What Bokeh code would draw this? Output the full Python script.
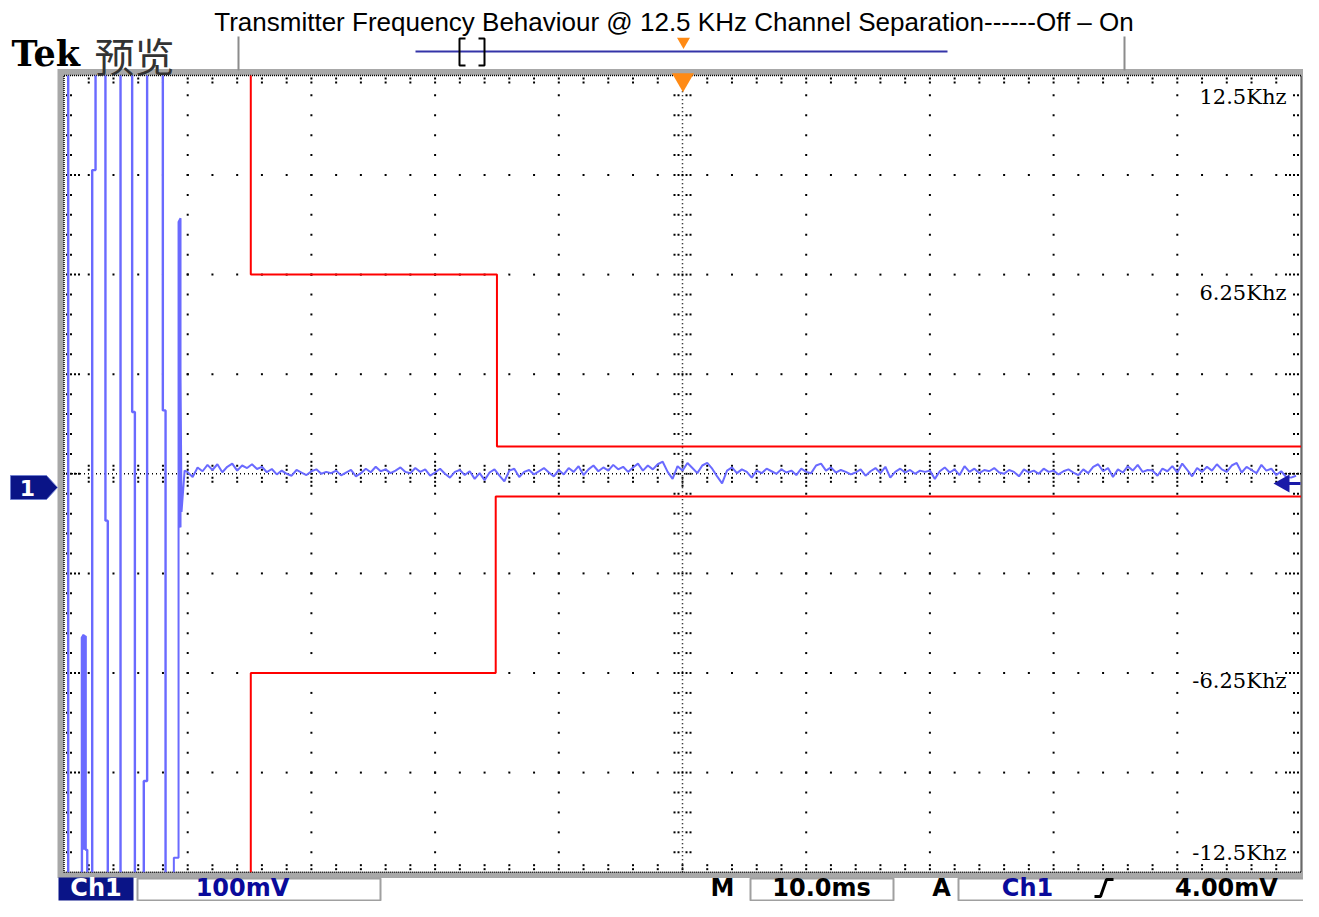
import numpy as np
from bokeh.plotting import figure
from bokeh.models import Range1d
from bokeh.core.properties import value
from bokeh.embed import file_html
from bokeh.resources import INLINE

# ------------------------------------------------------------------ data
title_text = "Transmitter Frequency Behaviour @ 12.5 KHz Channel Separation------Off \u2013 On"
brand_text = "Tek"
mode_text = "\u9884\u89c8"

t_full_ms = 100.0        # 10 div x 10 ms/div
f_full_khz = 12.5        # +/- 4 div x 3.125 kHz/div
div_t_ms = 10.0
div_f_khz = 3.125

# ETSI-style mask (time in ms, deviation in kHz)
mask_upper_t = [15.1, 15.1, 35.0, 35.0, 100.0]
mask_upper_f = [12.5, 6.25, 6.25, 0.86, 0.86]
mask_lower_t = [15.1, 15.1, 34.9, 34.9, 100.0]
mask_lower_f = [-12.5, -6.25, -6.25, -0.71, -0.71]

level_labels = ["12.5Khz", "6.25Khz", "-6.25Khz", "-12.5Khz"]
level_values = [12.5, 6.25, -6.25, -12.5]

# switch-on burst (display is clipped at +/-12.5 kHz)
burst_t = [
    [0.34, 0.34],
    [1.45, 1.45, 1.60, 1.60, 1.60, 1.75, 1.75, 1.88, 1.88],
    [2.28, 2.28, 2.55, 2.55],
    [3.35, 3.35, 3.54, 3.54],
    [4.57, 4.57],
    [5.51, 5.51, 5.73, 5.73],
    [6.45, 6.45, 6.72, 6.72],
    [7.99, 7.99, 8.21, 8.21],
    [8.88, 8.88, 9.26, 9.26, 9.42, 9.42, 9.34, 9.34, 9.50, 9.75],
]
burst_f = [
    [12.5, -12.5],
    [-12.5, -5.14, -5.05, -11.8, -5.10, -5.10, -11.8, -11.8, -12.5],
    [-12.5, 9.53, 9.53, 12.5],
    [12.5, -1.47, -1.47, -12.5],
    [-12.5, 12.5],
    [12.5, 1.94, 1.94, -12.5],
    [-12.5, -9.64, -9.64, 12.5],
    [12.5, 1.99, 1.99, -12.5],
    [-12.5, -12.05, -12.05, 7.90, 8.02, -1.68, -1.60, 7.50, -1.20, 0.10],
]

# settled carrier, sampled every 0.4 ms from 10.0 ms (kHz)
settled_t0 = 10.0
settled_dt = 0.4
settled_f = [
    0.05, -0.10, 0.20, 0.08, 0.28, 0.12, 0.30, 0.05, 0.22, 0.32, 0.10, 0.26, 0.18, 0.30, 0.15,
    0.22, 0.05, 0.15, -0.02, 0.10, 0.00, -0.06, 0.12, 0.04, -0.04, 0.08, 0.14, 0.00, 0.06, 0.02,
    0.10, -0.05, 0.04, 0.12, -0.08, 0.02, 0.16, 0.05, 0.22, 0.08, 0.14, 0.02, 0.10, 0.20, 0.06,
    0.02, 0.18, 0.06, 0.14, -0.06, 0.04, 0.16, 0.00, -0.12, 0.06, 0.12, -0.04, 0.08, -0.16, 0.02,
    -0.20, 0.04, 0.14, -0.06, -0.24, 0.10, 0.16, -0.10, 0.06, 0.12, -0.02, 0.08, 0.18, 0.04, -0.08,
    0.12, -0.02, 0.18, 0.06, 0.24, -0.04, 0.14, 0.26, 0.08, 0.20, 0.10, 0.28, 0.14, 0.22, 0.06,
    0.20, 0.32, 0.10, 0.26, 0.14, 0.30, 0.38, 0.06, -0.16, 0.24, 0.10, 0.34, 0.18, 0.02, 0.26,
    0.34, 0.16, -0.08, -0.30, 0.10, 0.20, 0.02, 0.14, 0.06, -0.12, 0.10, 0.02, 0.16, 0.08, 0.00,
    0.14, 0.04, 0.10, -0.04, 0.16, 0.06, 0.02, 0.26, 0.32, 0.10, 0.20, 0.04, 0.12, 0.06, -0.02,
    0.04, 0.14, -0.06, 0.08, 0.18, 0.02, 0.22, -0.12, 0.06, 0.16, 0.04, 0.12, 0.00, 0.10, 0.06,
    0.10, -0.16, 0.08, 0.20, 0.04, 0.14, -0.04, 0.24, 0.06, 0.16, 0.02, 0.12, 0.08, 0.18, 0.04,
    0.00, 0.12, 0.06, -0.08, 0.14, 0.04, 0.10, 0.00, 0.16, 0.06, 0.10, -0.02, 0.08, 0.14, 0.04,
    -0.04, 0.14, 0.02, 0.22, 0.30, 0.08, 0.18, -0.10, 0.14, 0.04, 0.24, 0.10, 0.28, 0.06, 0.12,
    0.10, -0.06, 0.16, 0.08, 0.24, 0.04, 0.32, 0.12, -0.08, 0.18, 0.06, 0.22, 0.10, 0.30, 0.14,
    0.06, 0.26, 0.34, 0.04, 0.22, 0.12, 0.02, 0.28, 0.10, 0.16, -0.04, 0.08, -0.10, -0.12, -0.06,
]

ch_label = "Ch1"
volts_label = "100mV"
time_label = "10.0ms"
trig_label = "4.00mV"

# ------------------------------------------------------------------ layout
W, H = 1303, 901
GX0, GX1 = 63.5, 1300.5          # px of the graticule left / right
GY_C = 473.3                     # px of 0 kHz
PXT = (GX1 - GX0) / t_full_ms    # px per ms
PXF = 31.87                      # px per kHz


def X(px):
    return (px - GX0) / PXT


def Y(py):
    return (GY_C - py) / PXF


p = figure(width=W, height=H,
           x_range=Range1d(X(0), X(W)),
           y_range=Range1d(Y(H), Y(0)),
           min_border=0, toolbar_location=None, output_backend="svg",
           x_axis_location=None, y_axis_location=None,
           background_fill_color="white", border_fill_color="white",
           outline_line_color=None)
p.grid.visible = False

TRACE = "#6a6aff"
NAVY = "#0a1487"

# graticule frame
p.quad(left=X(57), right=X(1306.5), top=Y(68.5), bottom=Y(877.5),
       fill_color="#a8a8a8", line_color=None)
p.quad(left=0, right=t_full_ms, top=f_full_khz, bottom=-f_full_khz,
       fill_color="white", line_color=None)

# graticule dots
minor_t = np.arange(2.0, t_full_ms, 2.0)
minor_f = np.arange(-f_full_khz + div_f_khz / 5, f_full_khz, div_f_khz / 5)
major_t = [t for t in np.arange(div_t_ms, t_full_ms, div_t_ms) if abs(t - 50) > 1e-6]
major_f = [f for f in np.arange(-f_full_khz + div_f_khz, f_full_khz, div_f_khz) if abs(f) > 1e-6]

gx, gy = [], []
for t in major_t:
    gx += [t] * len(minor_f)
    gy += list(minor_f)
for f in major_f:
    gx += list(minor_t)
    gy += [f] * len(minor_t)
# ticks on the centre horizontal line
for t in minor_t:
    for d in (-8, -4, 4, 8):
        gx.append(t)
        gy.append(d / PXF)
for t in np.arange(div_t_ms, t_full_ms, div_t_ms):
    for d in (-12, 12):
        gx.append(t)
        gy.append(d / PXF)
# ticks on the centre vertical line
for f in minor_f:
    for d in (-8, -4, 4, 8):
        gx.append(50 + d / PXT)
        gy.append(f)
# ticks on the border
for t in minor_t:
    for d in (3, 7):
        gx += [t, t]
        gy += [f_full_khz - d / PXF, -f_full_khz + d / PXF]
for f in minor_f:
    for d in (3, 7):
        gx += [d / PXT, t_full_ms - d / PXT]
        gy += [f, f]
for f in major_f + [0.0]:
    for d in (11, 15):
        gx += [d / PXT, t_full_ms - d / PXT]
        gy += [f, f]
p.scatter(gx, gy, marker="square", size=2, fill_color="black", line_color=None)

p.multi_line(xs=[[0, t_full_ms, t_full_ms, 0, 0]],
             ys=[[f_full_khz, f_full_khz, -f_full_khz, -f_full_khz, f_full_khz]],
             line_color="black", line_width=1.5, line_dash="1 1")
p.multi_line(xs=[[0, t_full_ms], [50, 50]],
             ys=[[0, 0], [-f_full_khz, f_full_khz]],
             line_color="black", line_width=1.5, line_dash="1 3")

# mask
p.line(mask_upper_t, mask_upper_f, line_color="#ff0000", line_width=2)
p.line(mask_lower_t, mask_lower_f, line_color="#ff0000", line_width=2)

# trace
settled_t = settled_t0 + settled_dt * np.arange(len(settled_f))
p.multi_line(xs=burst_t[:-1], ys=burst_f[:-1], line_color=TRACE, line_width=2.4)
p.line(burst_t[-1] + list(settled_t), burst_f[-1] + list(settled_f),
       line_color=TRACE, line_width=2)

# level labels
p.text(x=[X(1286)] * 4,
       y=[v + o / PXF for v, o in zip(level_values, [-22, -18, -8, 19])],
       text=level_labels, text_font=value("DejaVu Serif"), text_font_size="21px",
       text_color="black", text_align="right", text_baseline="middle")

# trigger markers
p.scatter([X(682.5)], [Y(79)], marker="inverted_triangle", size=22,
          fill_color="#ff8a14", line_color=None)
p.scatter([X(683)], [Y(41)], marker="inverted_triangle", size=13,
          fill_color="#ff8a14", line_color=None)

# channel marker on the left
p.patch([X(10), X(46), X(57), X(46), X(10)], [Y(475), Y(475), Y(487), Y(499), Y(499)],
        fill_color=NAVY, line_color="#7080d0", line_width=1)
p.text(x=[X(27)], y=[Y(487)], text=["1"], text_font=value("DejaVu Sans"),
       text_font_style="bold", text_font_size="22px", text_color="white",
       text_align="center", text_baseline="middle")
# ground arrow on the right
p.patch([X(1273), X(1289), X(1289)], [Y(483), Y(474), Y(492)],
        fill_color="#1a1aa8", line_color=None)
p.segment(x0=[X(1288)], y0=[Y(483)], x1=[X(1300)], y1=[Y(483)],
          line_color="#1a1aa8", line_width=3)

# header
p.text(x=[X(673.5)], y=[Y(21)], text=[title_text], text_font=value("Liberation Sans"),
       text_font_size="26px", text_color="black", text_align="center",
       text_baseline="middle")
p.text(x=[X(11)], y=[Y(53)], text=[brand_text], text_font=value("DejaVu Serif"),
       text_font_style="bold", text_font_size="35px", text_color="black",
       text_align="left", text_baseline="middle")
p.text(x=[X(94)], y=[Y(54)], text=[mode_text], text_font=value("Noto Sans CJK SC"),
       text_font_size="40px", text_color="#333333", text_align="left",
       text_baseline="middle")
p.segment(x0=[X(238), X(1124)], y0=[Y(36), Y(36)], x1=[X(238), X(1124)], y1=[Y(70), Y(70)],
          line_color="#8c8c8c", line_width=2)
p.segment(x0=[X(415)], y0=[Y(51)], x1=[X(947)], y1=[Y(51)],
          line_color="#3434a8", line_width=2)
p.multi_line(xs=[[X(465), X(459), X(459), X(465)], [X(478), X(484), X(484), X(478)]],
             ys=[[Y(38), Y(38), Y(65), Y(65)], [Y(38), Y(38), Y(65), Y(65)]],
             line_color="black", line_width=2)

# bottom status bar
BT, BB, BC = 877, 900, 887
p.quad(left=X(58), right=X(133), top=Y(BT), bottom=Y(BB), fill_color=NAVY, line_color=None)
p.quad(left=[X(137), X(750), X(958)], right=[X(380), X(893), X(1305)],
       top=[Y(BT + 1)] * 3, bottom=[Y(BB)] * 3,
       fill_color="white", line_color="#a0a0a0", line_width=2)
p.text(x=[X(95.5)], y=[Y(BC)], text=[ch_label], text_font=value("DejaVu Sans"),
       text_font_style="bold", text_font_size="24px", text_color="white",
       text_align="center", text_baseline="middle")
p.text(x=[X(242), X(1027)], y=[Y(BC), Y(BC)], text=[volts_label, ch_label],
       text_font=value("DejaVu Sans"), text_font_style="bold", text_font_size="24px",
       text_color="#0a0a9a", text_align="center", text_baseline="middle")
p.text(x=[X(722), X(821), X(941), X(1226)], y=[Y(BC)] * 4,
       text=["M", time_label, "A", trig_label],
       text_font=value("DejaVu Sans"), text_font_style="bold", text_font_size="24px",
       text_color="black", text_align="center", text_baseline="middle")
p.line([X(1094), X(1100), X(1106), X(1113)], [Y(896), Y(896), Y(879), Y(879)],
       line_color="black", line_width=3)

open("out.html", "w").write(file_html(p, INLINE))
